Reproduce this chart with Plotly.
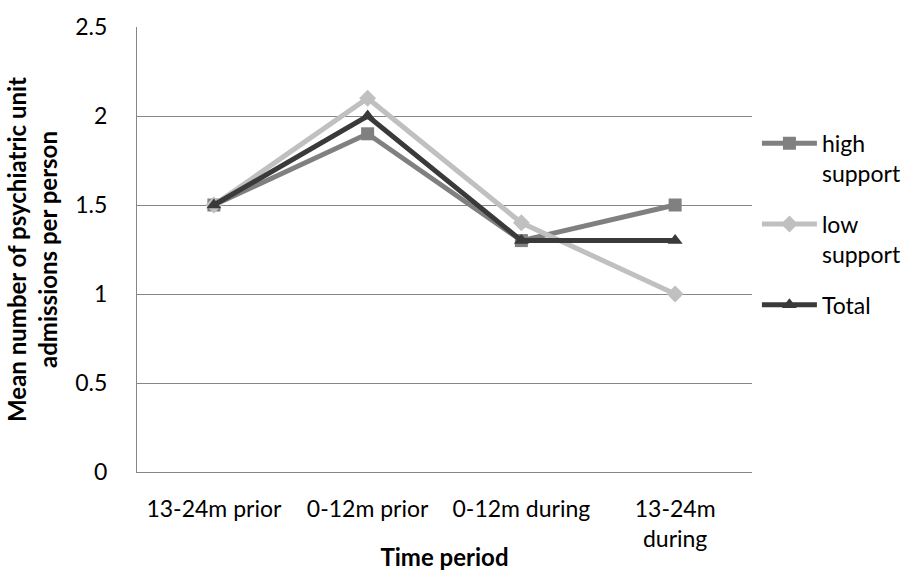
import plotly.graph_objects as go

periods = ["13-24m prior", "0-12m prior", "0-12m during", "13-24m<br>during"]
high_support = [1.5, 1.9, 1.3, 1.5]
low_support = [1.5, 2.1, 1.4, 1.0]
total = [1.5, 2.0, 1.3, 1.3]

series = [
    ("high<br>support", high_support, "#808080", "square", 13),
    ("low<br>support", low_support, "#c0c0c0", "diamond", 13),
    ("Total", total, "#3a3a3a", "triangle-up", 13),
]

fig = go.Figure()
for name, vals, color, symbol, size in series:
    fig.add_trace(go.Scatter(
        x=periods, y=vals, name=name, mode="lines+markers",
        legendgroup=name,
        line=dict(color=color, width=5),
        marker=dict(symbol=symbol, size=size, color=color),
    ))

font_family = "Lato, 'Open Sans', sans-serif"
fs = 23
fig.update_layout(
    width=909, height=571,
    margin=dict(l=137, r=157, t=27, b=99, autoexpand=False),
    paper_bgcolor="white", plot_bgcolor="white",
    font=dict(family=font_family, size=fs, color="#000000"),
    showlegend=True,
    legend=dict(x=1.008, xanchor="left", y=0.787, yanchor="top",
                font=dict(size=fs), tracegroupgap=18, valign="top",
                itemwidth=55, bgcolor="rgba(0,0,0,0)"),
    xaxis=dict(
        type="category", range=[-0.5, 3.5], automargin=False,
        showline=True, linecolor="#868686", linewidth=1,
        showgrid=False, ticks="", ticklen=0,
        ticklabelstandoff=16,
        tickfont=dict(size=fs),
        title=dict(text="<b>Time period</b>", font=dict(size=24), standoff=6),
    ),
    yaxis=dict(
        range=[0, 2.5], dtick=0.5, automargin=False,
        showline=True, linecolor="#868686", linewidth=1,
        showgrid=True, gridcolor="#868686", gridwidth=1,
        zeroline=False, ticks="", ticklen=0,
        ticklabelstandoff=24,
        tickfont=dict(size=fs),
        title=dict(text="<b>Mean number of psychiatric unit<br>admissions per person</b>",
                   font=dict(size=24), standoff=10),
    ),
)

fig.write_html("out.html")
